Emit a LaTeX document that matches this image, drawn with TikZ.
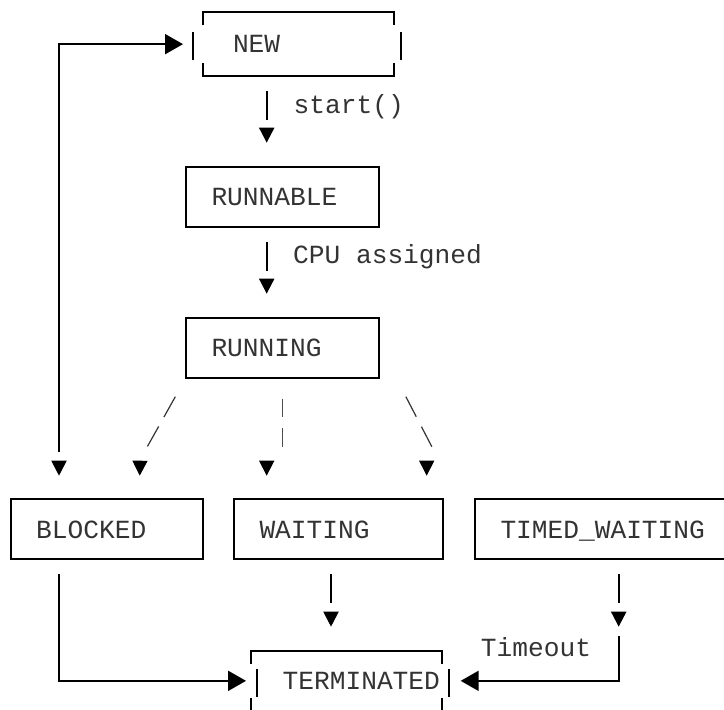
\documentclass[tikz,border=0pt]{standalone}
\usepackage{fontspec}
\newfontfamily\codefont{Liberation Mono}
\usetikzlibrary{arrows.meta}

\tikzset{
  state/.style = {draw, line width=2pt, outer sep=0pt, inner xsep=25.5pt,
    minimum height=60pt, align=left, text depth=0pt, anchor=north west},
  note/.style = {inner sep=0pt},
  boxline/.style = {line width=2pt},
  flow/.style = {line width=2pt, shorten <=15pt, shorten >=24pt,
    dash pattern=on 29pt off 40pt, -{Triangle[length=15pt,width=15pt]}},
  fan/.style = {line width=1.2pt, draw=black!80, shorten >=23.6pt,
    -{Triangle[length=15pt,width=15pt,color=black]}},
  sidelink/.style = {line width=2pt, shorten <=15pt,
    -{Triangle[length=18pt,width=20pt]}},
}

% box drawn from open corners and shifted side bars
\newcommand{\brokenbox}[3]{%
  \draw[boxline] ([yshift=-13pt]#1.north west) -- (#1.north west) -- (#1.north east) -- ++(0,-13pt);
  \draw[boxline] ([yshift=13pt]#1.south west) -- (#1.south west) -- (#1.south east) -- ++(0,13pt);
  \draw[boxline] ([xshift=#2,yshift=12pt]#1.west) -- ++(0,-28pt);
  \draw[boxline] ([xshift=#3,yshift=12pt]#1.east) -- ++(0,-28pt);
}

\begin{document}
\begin{tikzpicture}[x=1pt, y=-1pt, text=black!80,
    font=\codefont\fontsize{26.2pt}{30pt}\selectfont]
  \useasboundingbox (0,0) rectangle (724,710);

  \coordinate (col0) at (59,0);
  \coordinate (col1) at (139.3,0);
  \coordinate (col2) at (266.7,0);
  \coordinate (col3) at (426.7,0);
  \coordinate (colw) at (331,0);
  \coordinate (colt) at (618.7,0);
  \coordinate (tstub) at (618.7,636);

  \node[state, draw=none, text width=130.7pt, inner xsep=30.3pt, minimum height=63.7pt] (new) at (202.7,12.3) {NEW};
  \node[state, text width=142pt] (runnable) at (186,166.7) {RUNNABLE};
  \node[state, text width=142pt] (running) at (186,317.7) {RUNNING};
  \node[state, text width=141pt] (blocked) at (10.7,499.3) {BLOCKED};
  \node[state, text width=158.3pt] (waiting) at (234,499.3) {WAITING};
  \node[state, text width=205pt] (timed) at (475,499.3) {TIMED\_WAITING};
  \node[state, draw=none, text width=127.3pt, inner xsep=32pt, minimum height=60.3pt] (terminated) at (250.7,650.7) {TERMINATED};

  \brokenbox{new}{-10pt}{6.7pt}
  \brokenbox{terminated}{6pt}{7pt}

  \draw[flow] (new.south -| col2) -- node[note, pos=.408, anchor=base west, xshift=26pt] (lstart) {start()} (runnable.north -| col2);
  \draw[flow] (runnable.south -| col2) -- node[note, pos=.408, anchor=base west, xshift=25.5pt] (lcpu) {CPU assigned} (running.north -| col2);

  \draw[fan, shorten <=21.8pt, dash pattern=on 23.3pt off 10.8pt on 22.9pt off 300pt] (running.south west) -- ++(-46,82) -- (blocked.north -| col1);
  \draw[fan, draw=black!70, line width=1.6pt, shorten <=21pt, dash pattern=on 18.7pt off 10.3pt on 19.3pt off 300pt] (running.south) -- ++(0,82) -- ++(-15.8,0) -- (waiting.north -| col2);
  \draw[fan, shorten <=21.4pt, dash pattern=on 22.5pt off 11.3pt on 22.5pt off 300pt] ([xshift=17pt]running.south east) -- ++(42.6,82) -- ++(-11.9,0) -- (waiting.north -| col3);

  \draw[line width=2pt, {Triangle[length=18pt,width=20pt]}-{Triangle[length=15pt,width=15pt]}, shorten <=19.7pt, shorten >=23.6pt, dash pattern=on 514pt off 100pt] (new.west) -| (blocked.north -| col0);

  \draw[sidelink, shorten >=4.7pt] (blocked.south -| col0) |- (terminated.west);
  \draw[flow] (waiting.south -| colw) -- (terminated.north -| colw);
  \draw[flow] (timed.south -| colt) -- (terminated.north -| colt);
  \draw[sidelink, shorten <=0pt, shorten >=18.7pt] (tstub) |- node[note, pos=.234, anchor=base east, xshift=-26.7pt] (ltimeout) {Timeout} (terminated.east);
\end{tikzpicture}
\end{document}
